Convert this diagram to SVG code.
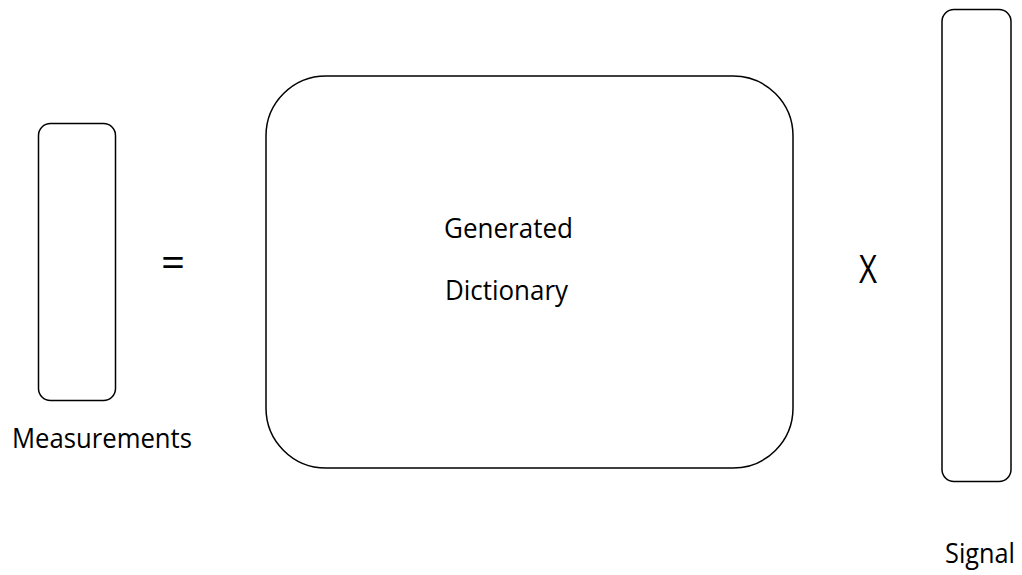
<svg xmlns="http://www.w3.org/2000/svg" width="1022" height="575" viewBox="0 0 1022 575">
<style>
.box{fill:#fff;stroke:#000;stroke-width:1.5}
.t{font-family:"Open Sans","Liberation Sans",sans-serif;font-size:27px;fill:#000}
</style>
<rect width="1022" height="575" fill="#fff"/>
<g id="measurements">
<rect class="box" x="38.5" y="123.5" width="77" height="277" rx="12"/>
<text class="t" x="12" y="448" textLength="180" lengthAdjust="spacingAndGlyphs">Measurements</text>
</g>
<g id="equals"><text class="t" x="161" y="277" style="font-size:42px">=</text></g>
<g id="dictionary">
<rect class="box" x="266" y="76" width="527" height="392" rx="60"/>
<text class="t" x="444" y="238" textLength="129" lengthAdjust="spacingAndGlyphs">Generated</text>
<text class="t" x="445" y="300" textLength="123" lengthAdjust="spacingAndGlyphs">Dictionary</text>
</g>
<g id="times"><text class="t" x="859" y="283" textLength="18" lengthAdjust="spacingAndGlyphs" style="font-size:39px">X</text></g>
<g id="signal">
<rect class="box" x="942" y="9.5" width="69" height="472" rx="12"/>
<text class="t" x="945" y="563" textLength="70" lengthAdjust="spacingAndGlyphs">Signal</text>
</g>
<g id="connectors"></g>
</svg>
